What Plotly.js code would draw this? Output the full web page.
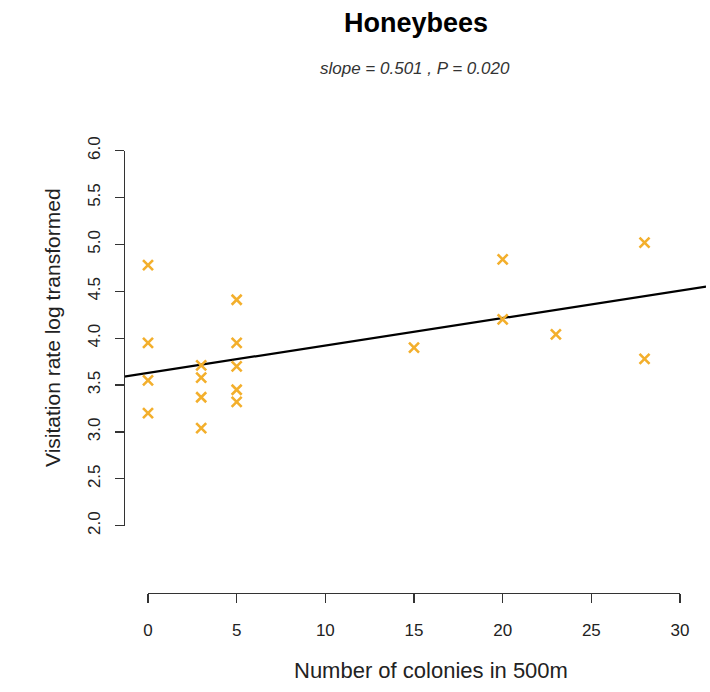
<!DOCTYPE html>
<html>
<head>
<meta charset="utf-8">
<script src="https://cdn.plot.ly/plotly-3.0.1.min.js"></script>
<style>html,body{margin:0;padding:0;background:#fff;}#chart{width:710px;height:692px;}</style>
</head>
<body>
<div id="chart"></div>
<script>
// Data
const colonies = [0, 0, 0, 0, 3, 3, 3, 3, 5, 5, 5, 5, 5, 15, 20, 20, 23, 28, 28];
const visitation = [4.78, 3.95, 3.55, 3.20, 3.71, 3.58, 3.37, 3.04, 4.41, 3.95, 3.70, 3.45, 3.32, 3.90, 4.84, 4.20, 4.04, 5.02, 3.78];
const fitX = [-1.35, 31.47];
const fitY = [3.59, 4.55];
const xTicks = [0, 5, 10, 15, 20, 25, 30];
const yTicks = [2.0, 2.5, 3.0, 3.5, 4.0, 4.5, 5.0, 5.5, 6.0];
const titleText = "Honeybees";
const subtitleText = "slope = 0.501 , P = 0.020";
const xTitleText = "Number of colonies in 500m";
const yTitleText = "Visitation rate log transformed";

const W = 710, H = 692;
const px = v => v / W;
const py = v => 1 - v / H;

const traces = [
  {
    x: fitX, y: fitY, mode: 'lines', type: 'scatter',
    line: {color: '#000000', width: 2.2},
    xaxis: 'x', yaxis: 'y', hoverinfo: 'skip', showlegend: false
  },
  {
    x: colonies, y: visitation, mode: 'markers', type: 'scatter',
    marker: {symbol: 'x-thin-open', size: 10, color: '#F3AF2C', line: {color: '#F3AF2C', width: 2.6}},
    xaxis: 'x', yaxis: 'y', showlegend: false
  },
  {
    x: [], y: [], mode: 'markers', type: 'scatter',
    xaxis: 'x2', yaxis: 'y2', showlegend: false
  }
];

const axisFont = {family: 'Liberation Sans, Arial, sans-serif', size: 17, color: '#222'};

const layout = {
  width: W, height: H,
  margin: {l: 0, r: 0, t: 0, b: 0},
  paper_bgcolor: '#ffffff', plot_bgcolor: 'rgba(0,0,0,0)',
  showlegend: false,
  xaxis: {
    domain: [px(124), px(706)], range: [-1.3534, 31.466],
    visible: false, showgrid: false, zeroline: false, fixedrange: true
  },
  yaxis: {
    domain: [py(560), py(130)], range: [1.6341, 6.2208],
    visible: false, showgrid: false, zeroline: false, fixedrange: true
  },
  xaxis2: {
    domain: [px(148), px(680)], range: [0, 30],
    anchor: 'free', position: py(593),
    showline: true, linecolor: '#333', linewidth: 1.3,
    ticks: 'outside', ticklen: 9, tickwidth: 1.3, tickcolor: '#333',
    tickmode: 'array', tickvals: xTicks, ticktext: xTicks.map(String),
    tickfont: axisFont, ticklabelstandoff: 12,
    showgrid: false, zeroline: false, fixedrange: true
  },
  yaxis2: {
    domain: [py(525.7), py(150.7)], range: [2, 6],
    anchor: 'free', position: px(124),
    showline: true, linecolor: '#333', linewidth: 1.3,
    ticks: 'outside', ticklen: 9, tickwidth: 1.3, tickcolor: '#333',
    tickmode: 'array', tickvals: yTicks, ticktext: yTicks.map(v => v.toFixed(1)),
    tickangle: -90, tickfont: axisFont, ticklabelstandoff: 8,
    showgrid: false, zeroline: false, fixedrange: true
  },
  annotations: [
    {text: '<b>' + titleText + '</b>', xref: 'paper', yref: 'paper', x: px(416), y: py(23),
     xanchor: 'center', yanchor: 'middle', showarrow: false,
     font: {family: 'Liberation Sans, Arial, sans-serif', size: 27, color: '#000'}},
    {text: '<i>' + subtitleText + '</i>', xref: 'paper', yref: 'paper', x: px(415), y: py(68),
     xanchor: 'center', yanchor: 'middle', showarrow: false,
     font: {family: 'Liberation Sans, Arial, sans-serif', size: 17, color: '#333'}},
    {text: xTitleText, xref: 'paper', yref: 'paper', x: px(431), y: py(670),
     xanchor: 'center', yanchor: 'middle', showarrow: false,
     font: {family: 'Liberation Sans, Arial, sans-serif', size: 22, color: '#222'}},
    {text: yTitleText, xref: 'paper', yref: 'paper', x: px(52), y: py(328),
     xanchor: 'center', yanchor: 'middle', showarrow: false, textangle: -90,
     font: {family: 'Liberation Sans, Arial, sans-serif', size: 21, color: '#222'}}
  ]
};

Plotly.newPlot('chart', traces, layout, {displayModeBar: false, staticPlot: true});
</script>
</body>
</html>
